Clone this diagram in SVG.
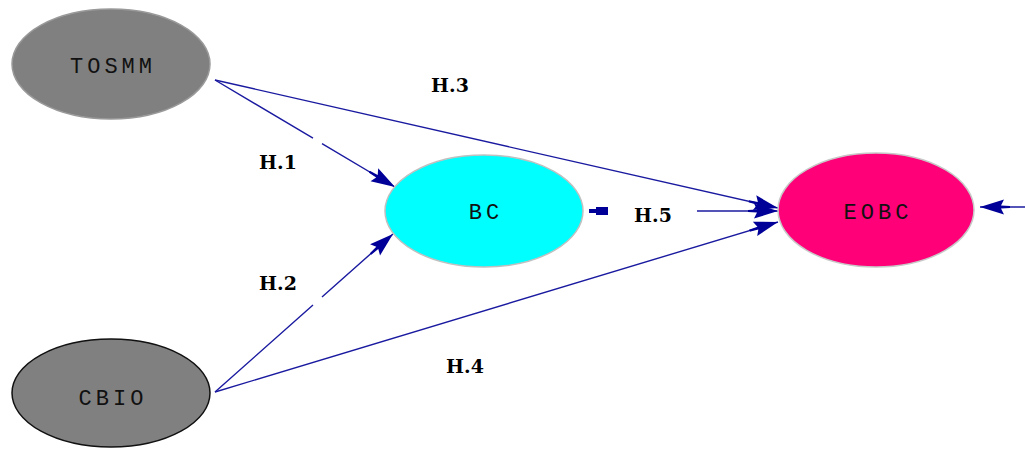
<svg xmlns="http://www.w3.org/2000/svg" width="1025" height="450" viewBox="0 0 1025 450">
<style>
.edge{fill:none;stroke:#1a1aa0;stroke-width:1.4}
.nt{font-family:"Liberation Mono","Courier New",monospace;font-size:22px;letter-spacing:4px;fill:#111;text-anchor:middle}
.lbl{font-family:"DejaVu Serif","Liberation Serif",serif;font-size:19px;font-weight:bold;fill:#000;text-anchor:middle}
</style>
<defs>
<marker id="arr" markerUnits="userSpaceOnUse" markerWidth="34" markerHeight="20" refX="30" refY="10" orient="auto">
<path d="M0,9 L9,8.5 L6,2.5 L30,10 L6,17.5 L9,11.5 L0,11 Z" fill="#000099"/>
</marker>
</defs>
<rect width="1025" height="450" fill="#fff"/>
<g id="connectors">
<path class="edge" d="M215,80 L313,138.2 M322,143.6 L395,187" marker-end="url(#arr)"/>
<path class="edge" d="M215,80 L778,208" marker-end="url(#arr)"/>
<path class="edge" d="M215,392 L313,305 M322,297 L393,234" marker-end="url(#arr)"/>
<path class="edge" d="M215,392 L778,222" marker-end="url(#arr)"/>
<path d="M589,209 L596,209 L596,207 L608,207 L608,215 L596,215 L596,213 L589,213 Z" fill="#000099"/>
<path class="edge" d="M697,211 L778,211" marker-end="url(#arr)"/>
<path class="edge" d="M1025,207 L980,207" marker-end="url(#arr)"/>
<text class="lbl" x="450" y="92">H.3</text>
<text class="lbl" x="278" y="169">H.1</text>
<text class="lbl" x="278" y="290">H.2</text>
<text class="lbl" x="465" y="373">H.4</text>
<text class="lbl" x="653" y="222">H.5</text>
</g>
<g id="TOSMM">
<ellipse cx="111" cy="64" rx="99" ry="55" fill="#808080" stroke="#9a9a9a" stroke-width="1.5"/>
<text class="nt" x="113" y="73">TOSMM</text>
</g>
<g id="CBIO">
<ellipse cx="111" cy="393" rx="99" ry="54" fill="#808080" stroke="#111" stroke-width="1.5"/>
<text class="nt" x="113" y="405">CBIO</text>
</g>
<g id="BC">
<ellipse cx="484" cy="211" rx="99" ry="56" fill="#00ffff" stroke="#c0c0c0" stroke-width="1.5"/>
<text class="nt" x="486" y="219">BC</text>
</g>
<g id="EOBC">
<ellipse cx="876" cy="210" rx="98" ry="57" fill="#ff0078" stroke="#c8c8c8" stroke-width="1.5"/>
<text class="nt" x="878" y="219">EOBC</text>
</g>
</svg>
